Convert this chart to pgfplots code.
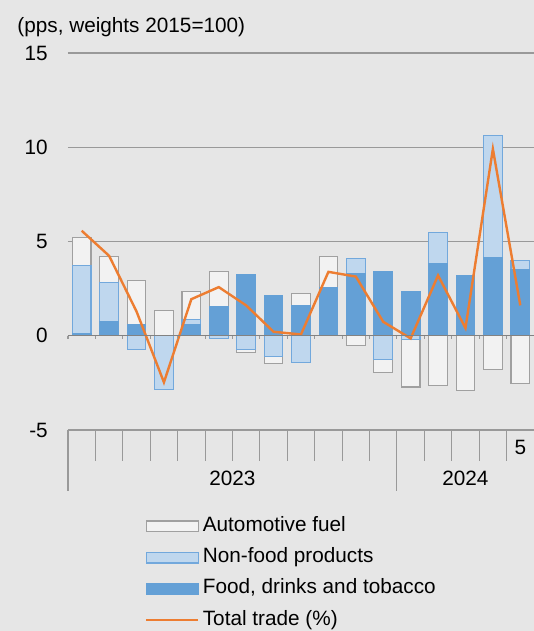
\documentclass[border=0pt]{standalone}
\usepackage{pgfplots}
\pgfplotsset{compat=1.18}
\usepackage{pgfplotstable}
\usepackage{fontspec}
\setmainfont{Liberation Sans}

\definecolor{bgc}{HTML}{E6E6E6}
\definecolor{fuelfill}{HTML}{F2F2F2}
\definecolor{fueldraw}{HTML}{A0A0A0}
\definecolor{nffill}{HTML}{BFD7EE}
\definecolor{nfdraw}{HTML}{72A8DC}
\definecolor{foodc}{HTML}{64A0D6}
\definecolor{linec}{HTML}{ED7D31}
\definecolor{gridc}{HTML}{999999}

% tops of the stacked segments (positive and negative stacks), total trade line
\pgfplotstableread{
x  food nfp   fuelp nfn   fueln total
0  0.14 3.73  5.23  nan   nan   5.57
1  0.74 2.84  4.20  nan   nan   4.24
2  0.57 nan   2.92  -0.74 nan   1.29
3  nan  nan   1.36  -2.83 nan   -2.47
4  0.58 0.85  2.35  nan   nan   1.94
5  1.55 nan   3.39  -0.16 nan   2.58
6  3.25 nan   nan   -0.74 -0.88 1.61
7  2.12 nan   nan   -1.10 -1.45 0.21
8  1.61 nan   2.24  -1.40 nan   0.07
9  2.58 nan   4.19  nan   nan   3.39
10 3.32 4.12  nan   nan   -0.53 3.14
11 3.41 nan   nan   -1.27 -1.96 0.74
12 2.35 nan   nan   -0.21 -2.72 -0.14
13 3.85 5.48  nan   nan   -2.65 3.20
14 3.18 nan   nan   nan   -2.90 0.41
15 4.13 10.64 nan   nan   -1.80 9.91
16 3.52 3.99  nan   nan   -2.54 1.61
}\trade

\begin{document}
\fontsize{11.2}{13.4}\selectfont
\begin{tikzpicture}
\useasboundingbox[fill=bgc] (-36.72pt,-108.54pt) rectangle (251.64pt,232.2pt);
\begin{axis}[
    at={(0,0)}, anchor=south west,
    scale only axis, width=251.64pt, height=203.58pt,
    xmin=-0.5, xmax=16.5, ymin=-5, ymax=15,
    clip=false,
    axis line style={draw=none},
    xtick=\empty,
    ytick={-5,0,5,10,15},
    major tick length=0pt,
    ymajorgrids,
    major grid style={color=gridc, line width=0.55pt},
    /pgf/number format/assume math mode=true,
    yticklabel style={font=\fontsize{11.2}{13.4}\selectfont, xshift=-7pt},
    legend style={at={(0.165,-0.221)}, anchor=north west, draw=none, fill=none,
        font=\fontsize{11.2}{13.4}\selectfont, inner sep=0pt, row sep=3.2pt,
        nodes={inner sep=2pt, text height=7.5pt, text depth=2.2pt}},
    legend cell align=left,
    bar width=0.68,
]
\addplot[ybar, bar shift=0pt, fill=fuelfill, draw=fueldraw, line width=0.6pt,
    legend image code/.code={\draw[fill=fuelfill, draw=fueldraw, line width=0.6pt] (0pt,-2.9pt) rectangle (28pt,2.9pt);}]
    table[x=x, y=fuelp] {\trade};
\addlegendentry{Automotive fuel}
\addplot[ybar, bar shift=0pt, fill=nffill, draw=nfdraw, line width=0.6pt,
    legend image code/.code={\draw[fill=nffill, draw=nfdraw, line width=0.6pt] (0pt,-2.9pt) rectangle (28pt,2.9pt);}]
    table[x=x, y=nfp] {\trade};
\addlegendentry{Non-food products}
\addplot[ybar, bar shift=0pt, fill=foodc, draw=foodc, line width=0.6pt,
    legend image code/.code={\draw[fill=foodc, draw=foodc, line width=0.6pt] (0pt,-2.9pt) rectangle (28pt,2.9pt);}]
    table[x=x, y=food] {\trade};
\addlegendentry{Food, drinks and tobacco}
\addplot[ybar, bar shift=0pt, fill=fuelfill, draw=fueldraw, line width=0.6pt, forget plot]
    table[x=x, y=fueln] {\trade};
\addplot[ybar, bar shift=0pt, fill=nffill, draw=nfdraw, line width=0.6pt, forget plot]
    table[x=x, y=nfn] {\trade};
\addplot[color=linec, line width=1.3pt, mark=none,
    legend image code/.code={\draw[color=linec, line width=1.1pt] (0pt,0pt) -- (28pt,0pt);}]
    table[x=x, y=total] {\trade};
\addlegendentry{Total trade (\%)}

% zero line with ticks between months
\draw[color=gridc!85!black, line width=0.7pt] (axis cs:-0.5,0) -- (axis cs:16.5,0);
\pgfplotsinvokeforeach{-0.5,0.5,...,15.5}{
    \draw[color=gridc, line width=0.6pt] (axis cs:#1,0) -- (axis cs:#1,-0.17);
}
% category axis below the plot
\pgfplotsinvokeforeach{-0.5,0.5,...,15.5}{
    \draw[color=gridc, line width=0.6pt] (axis cs:#1,-5) -- (axis cs:#1,-6.65);
}
\draw[color=gridc, line width=0.6pt] (axis cs:-0.5,-5) -- (axis cs:-0.5,-8.24);
\draw[color=gridc, line width=0.6pt] (axis cs:11.5,-5) -- (axis cs:11.5,-8.24);
\node at (axis cs:5.5,-7.55) {2023};
\node at (axis cs:14,-7.55) {2024};
\node at (axis cs:16,-5.95) {5};
\node[anchor=base west, inner sep=0pt, xshift=-27.5pt, yshift=11.3pt] at (rel axis cs:0,1) {(pps, weights 2015=100)};
\end{axis}
\end{tikzpicture}
\end{document}
